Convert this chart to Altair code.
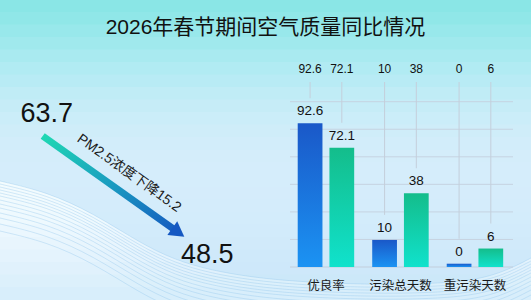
import altair as alt
import pandas as pd

# ---------------- data ----------------
title_text = "2026年春节期间空气质量同比情况"
categories = ["优良率", "污染总天数", "重污染天数"]
series = ["2026年", "2025年"]
values_2026 = [92.6, 10, 0]
values_2025 = [72.1, 38, 6]

pm_pos = [0, 1]
pm_values = [63.7, 48.5]

# background colour bands (top to bottom)
bg_colors = ["#38ebca", "#48eed0", "#5bf0d6", "#6ff3dd", "#84f5e4", "#98f7ea",
             "#abf8ef", "#bdfaf3", "#ccfbf6", "#d9fcf9", "#e3fcfb", "#eafdfc",
             "#effdfd", "#f2fdfe", "#f3fcfe", "#f2fbfe", "#f0fafe", "#eef9fe",
             "#ebf7fe", "#e8f5fd", "#e4f3fd", "#e0f1fc", "#dcf0fb", "#d8eefb"]

# decorative wave outline
wave_x = [0, 47, 93, 140, 175, 210, 250, 300, 380, 460, 500, 531]
wave_y = [181, 192, 213, 243, 260, 270, 277, 282, 285, 283, 274, 258]
wave_offsets = [0, 3, 6, 9, 12, 15, 19, 23, 27, 32, 37, 43, 50]

grid_idx = [1, 2, 3, 4, 5, 6]

FONT = "Liberation Sans, Noto Sans CJK SC, sans-serif"

# ---------------- tables ----------------
rows = []
for s, vals in zip(series, [values_2026, values_2025]):
    for c, v in zip(categories, vals):
        rows.append({"cat": c, "ser": s, "value": v, "label": f"{v:g}",
                     "disp": max(v, 0.6)})
bars_df = pd.DataFrame(rows)
pm_df = pd.DataFrame({"pos": pm_pos, "pm": pm_values,
                      "label": [f"{v:g}" for v in pm_values]})
wave_df = pd.DataFrame({"wx": wave_x, "wy": wave_y})
grid_df = pd.DataFrame({"g": grid_idx})
one = pd.DataFrame({"k": [0]})
bg_df = pd.DataFrame({"band": list(range(len(bg_colors))), "col": bg_colors})
bg_df["band2"] = bg_df["band"] + 1

# ---------------- background ----------------
bg = alt.Chart(bg_df).mark_rect(opacity=1).encode(
    y=alt.Y("band:Q", scale=alt.Scale(domain=[0, len(bg_colors)], range=[0, 300]),
            axis=None),
    y2="band2:Q",
    x=alt.value(0), x2=alt.value(531),
    fill=alt.Fill("col:N", scale=None, legend=None),
    stroke=alt.Stroke("col:N", scale=None, legend=None),
)

wx = alt.X("wx:Q", scale=alt.Scale(domain=[0, 531], range=[0, 531]), axis=None)
wy = alt.Y("wy:Q", scale=alt.Scale(domain=[0, 300], range=[0, 300]), axis=None)

wave_area = alt.Chart(wave_df).mark_area(
    interpolate="basis", fill="#c2e3f8", opacity=0.6,
).encode(x=wx, y=wy, y2=alt.value(300))

wave_lines = [
    alt.Chart(wave_df).mark_line(
        interpolate="basis", stroke="#8fc5eb", strokeWidth=0.6,
        opacity=0.6, yOffset=o,
    ).encode(x=wx, y=wy)
    for o in wave_offsets
]
waves = alt.layer(wave_area, *wave_lines)

# ---------------- grid ----------------
grid = alt.Chart(grid_df).mark_rule(color="#c6d3e1", strokeWidth=1).encode(
    y=alt.Y("g:Q", scale=alt.Scale(domain=[0, 6], range=[267, 101.7]), axis=None),
    x=alt.value(290), x2=alt.value(513),
)
baseline = alt.Chart(one).mark_rule(color="#c2cedb", strokeWidth=1.2).encode(
    y=alt.value(267), x=alt.value(290), x2=alt.value(513)
)

# ---------------- left arrow ----------------
px = alt.X("pos:Q", scale=alt.Scale(domain=[0, 1], range=[42.7, 178.3]), axis=None)
py = alt.Y("pm:Q", scale=alt.Scale(domain=[48.5, 63.7], range=[232.4, 136]), axis=None)
pm_base = alt.Chart(pm_df)

arrow_line = pm_base.mark_line(
    strokeWidth=7, strokeCap="butt",
    stroke=alt.Gradient(
        gradient="linear", x1=0, x2=1, y1=0, y2=1,
        stops=[alt.GradientStop(color="#1fd8b3", offset=0),
               alt.GradientStop(color="#1a9cc0", offset=0.5),
               alt.GradientStop(color="#1559c0", offset=1)],
    ),
).encode(x=px, y=py)
arrow_head = pm_base.transform_filter("datum.pos == 1").mark_point(
    shape="triangle-right", size=289, angle=35.4, filled=True,
    color="#1558c2", opacity=1,
).encode(x=px, y=py)
lab_start = pm_base.transform_filter("datum.pos == 0").mark_text(
    font=FONT, fontSize=27, color="#111111", dx=4, dy=-22,
    align="center", baseline="middle",
).encode(x=px, y=py, text="label:N")
lab_end = pm_base.transform_filter("datum.pos == 1").mark_text(
    font=FONT, fontSize=27, color="#111111", dx=29, dy=23,
    align="center", baseline="middle",
).encode(x=px, y=py, text="label:N")
drop_text = pm_base.transform_filter("datum.pos == 0").mark_text(
    font=FONT, fontSize=14, color="#1a1a1a", angle=35.4, dx=92, dy=-19.6,
    align="center", baseline="middle",
).encode(x=px, y=py,
         text=alt.value(f"PM2.5浓度下降{pm_values[0] - pm_values[1]:.1f}"))
left = alt.layer(arrow_line, arrow_head, lab_start, lab_end, drop_text)

# ---------------- bars ----------------
bx = alt.X("cat:N", sort=categories, axis=None,
           scale=alt.Scale(range=[288.7, 512.2], paddingInner=0.242, paddingOuter=0.121))
bxo = alt.XOffset("ser:N", sort=series,
                  scale=alt.Scale(domain=series, paddingInner=0.22, paddingOuter=0))
by = alt.Y("disp:Q", axis=None,
           scale=alt.Scale(type="pow", exponent=0.75, domain=[0, 111.5], range=[267, 101.7]))
bbase = alt.Chart(bars_df)

drops = bbase.mark_rule(color="#c4cfdb", strokeWidth=1, yOffset=-25).encode(
    x=bx, xOffset=bxo, y=by, y2=alt.value(82)
)
blue = bbase.transform_filter(f"datum.ser == '{series[0]}'").mark_bar(
    opacity=1,
    fill=alt.Gradient(
        gradient="linear", x1=0, x2=0, y1=0, y2=1,
        stops=[alt.GradientStop(color="#1a58c8", offset=0),
               alt.GradientStop(color="#1b93f3", offset=1)],
    ),
).encode(x=bx, xOffset=bxo, y=by, y2=alt.datum(0))
teal = bbase.transform_filter(f"datum.ser == '{series[1]}'").mark_bar(
    opacity=1,
    fill=alt.Gradient(
        gradient="linear", x1=0, x2=0, y1=0, y2=1,
        stops=[alt.GradientStop(color="#14bd8b", offset=0),
               alt.GradientStop(color="#10e2cc", offset=1)],
    ),
).encode(x=bx, xOffset=bxo, y=by, y2=alt.datum(0))
val_text = bbase.mark_text(font=FONT, fontSize=13.5, color="#111111", dy=-12,
                           baseline="middle").encode(
    x=bx, xOffset=bxo, y=by, text="label:N")
top_text = bbase.mark_text(font=FONT, fontSize=12, color="#111111",
                           baseline="middle").encode(
    x=bx, xOffset=bxo, y=alt.value(68.5), text="label:N")
cat_text = alt.Chart(pd.DataFrame({"cat": categories})).mark_text(
    font=FONT, fontSize=12.5, color="#1a1a1a", baseline="middle").encode(
    x=bx, y=alt.value(285.5), text="cat:N")
bars = alt.layer(drops, blue, teal, val_text, top_text, cat_text)

# ---------------- title ----------------
title = alt.Chart(one).mark_text(
    font=FONT, fontSize=21, color="#111111", align="center", baseline="middle",
    text=title_text,
).encode(x=alt.value(265.5), y=alt.value(27.5))

chart = alt.layer(bg, waves, grid, baseline, left, bars, title).resolve_scale(
    x="independent", y="independent"
).properties(
    width=531, height=300, padding=0,
    autosize=alt.AutoSizeParams(type="none"),
).configure_view(stroke=None)

chart.save("out.html", embed_options={"renderer": "svg", "actions": False})
